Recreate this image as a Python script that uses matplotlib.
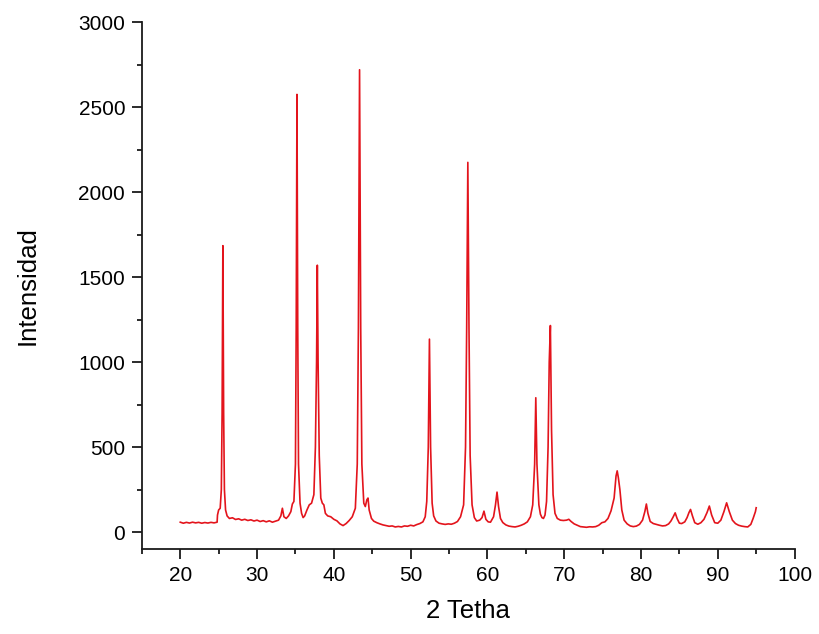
import matplotlib.pyplot as plt
from matplotlib.ticker import MultipleLocator

# Difractograma: 2 theta (grados) e intensidad (cuentas)
two_theta = [
    20.0, 20.4, 20.8, 21.2, 21.6, 22.0, 22.4, 22.8, 23.2, 23.6, 24.0, 24.4, 24.8,
    24.85, 25.0, 25.2, 25.35, 25.45, 25.55, 25.65, 25.75, 25.9, 26.1, 26.4, 26.8,
    27.2, 27.6, 28.0, 28.4, 28.8, 29.2, 29.6, 30.0, 30.4, 30.8, 31.2, 31.6, 32.0,
    32.4, 32.8, 33.1, 33.3, 33.5, 33.8, 34.1, 34.4, 34.6, 34.8, 35.0, 35.1, 35.2,
    35.3, 35.4, 35.6, 35.8, 36.0, 36.2, 36.5, 36.8, 37.1, 37.4, 37.6, 37.75, 37.85,
    37.95, 38.1, 38.3, 38.5, 38.7, 38.9, 39.2, 39.6, 40.0, 40.4, 40.8, 41.2, 41.6,
    42.0, 42.4, 42.8, 43.05, 43.2, 43.35, 43.5, 43.65, 43.9, 44.1, 44.3, 44.45,
    44.6, 44.9, 45.2, 45.6, 46.0, 46.4, 46.8, 47.2, 47.6, 48.0, 48.4, 48.8, 49.2,
    49.6, 50.0, 50.4, 50.8, 51.2, 51.6, 51.9, 52.1, 52.3, 52.45, 52.6, 52.8, 53.0,
    53.3, 53.7, 54.1, 54.5, 54.9, 55.3, 55.7, 56.1, 56.5, 56.9, 57.15, 57.3, 57.45,
    57.6, 57.75, 58.0, 58.3, 58.6, 59.0, 59.3, 59.55, 59.8, 60.1, 60.4, 60.8, 61.05,
    61.25, 61.45, 61.7, 62.0, 62.4, 62.8, 63.2, 63.6, 64.0, 64.4, 64.8, 65.2, 65.6,
    65.9, 66.15, 66.3, 66.45, 66.7, 66.9, 67.1, 67.3, 67.5, 67.7, 67.9, 68.05, 68.2,
    68.35, 68.55, 68.8, 69.1, 69.5, 69.9, 70.3, 70.6, 70.9, 71.3, 71.7, 72.1, 72.5,
    72.9, 73.3, 73.7, 74.1, 74.5, 74.9, 75.3, 75.7, 76.1, 76.5, 76.75, 76.9, 77.05,
    77.25, 77.5, 77.8, 78.2, 78.6, 79.0, 79.4, 79.8, 80.2, 80.5, 80.7, 80.9, 81.2,
    81.6, 82.0, 82.4, 82.8, 83.2, 83.6, 83.9, 84.2, 84.45, 84.7, 85.0, 85.3, 85.7,
    86.0, 86.25, 86.45, 86.7, 87.0, 87.4, 87.8, 88.2, 88.6, 88.9, 89.2, 89.6, 90.0,
    90.4, 90.8, 91.15, 91.5, 91.9, 92.3, 92.7, 93.1, 93.5, 93.9, 94.3, 94.6, 94.9,
    95.0,
]
intensity = [
    58, 52, 57, 53, 58, 54, 57, 52, 56, 53, 57, 54, 58,
    100, 130, 140, 250, 700, 1685, 700, 250, 130, 95, 80, 84,
    74, 78, 70, 75, 68, 72, 65, 70, 62, 67, 60, 66, 58,
    64, 70, 95, 140, 90, 80, 95, 120, 165, 180, 400, 1200, 2575,
    1200, 400, 170, 110, 85, 95, 130, 160, 170, 220, 500, 1000, 1570,
    1000, 450, 200, 170, 160, 110, 95, 90, 75, 66, 48, 38, 50,
    68, 90, 140, 400, 1200, 2720, 1200, 400, 170, 150, 190, 200,
    130, 80, 64, 55, 48, 42, 38, 34, 36, 30, 33, 30, 36,
    34, 40, 36, 44, 50, 60, 90, 180, 500, 1135, 500, 170, 95,
    65, 52, 48, 45, 48, 46, 52, 62, 90, 160, 500, 1200, 2175,
    1200, 450, 160, 85, 65, 70, 85, 123, 75, 60, 58, 90, 160,
    235, 150, 80, 56, 42, 35, 32, 30, 34, 40, 48, 60, 90,
    160, 400, 790, 400, 160, 105, 85, 80, 100, 180, 500, 1000, 1215,
    600, 220, 110, 80, 70, 68, 70, 75, 62, 48, 40, 32, 30,
    28, 31, 30, 32, 40, 55, 60, 80, 125, 200, 330, 360, 320,
    250, 130, 70, 48, 36, 32, 35, 45, 70, 120, 165, 110, 62,
    50, 45, 40, 36, 38, 48, 65, 90, 113, 80, 52, 50, 60,
    85, 115, 133, 95, 55, 46, 55, 75, 115, 153, 100, 55, 52,
    70, 120, 172, 120, 70, 50, 40, 35, 32, 30, 45, 80, 120,
    143,
]

plt.rcParams['font.family'] = ['Liberation Sans', 'DejaVu Sans']

fig = plt.figure(figsize=(8.2, 6.34), dpi=100)
ax = fig.add_axes([0.173, 0.134, 0.796, 0.831])

ax.plot(two_theta, intensity, color='#e3141c', linewidth=1.2)

ax.set_xlim(15, 100)
ax.set_ylim(-100, 3000)
ax.xaxis.set_major_locator(MultipleLocator(10))
ax.xaxis.set_minor_locator(MultipleLocator(5))
ax.yaxis.set_major_locator(MultipleLocator(500))
ax.yaxis.set_minor_locator(MultipleLocator(250))
ax.set_xticks(range(20, 101, 10))
ax.set_yticks(range(0, 3001, 500))

for side in ['top', 'right']:
    ax.spines[side].set_visible(False)
for side in ['left', 'bottom']:
    ax.spines[side].set_linewidth(1.3)
    ax.spines[side].set_color('#1a1a1a')

ax.tick_params(which='major', direction='out', length=7, width=1.3,
               labelsize=15, pad=5, color='#1a1a1a')
ax.tick_params(which='minor', direction='out', length=3.8, width=1.3,
               color='#1a1a1a')

ax.set_xlabel('2 Tetha', fontsize=18.5, labelpad=10)
ax.set_ylabel('Intensidad', fontsize=18.5, labelpad=28)

fig.savefig('out.png', dpi=100)
